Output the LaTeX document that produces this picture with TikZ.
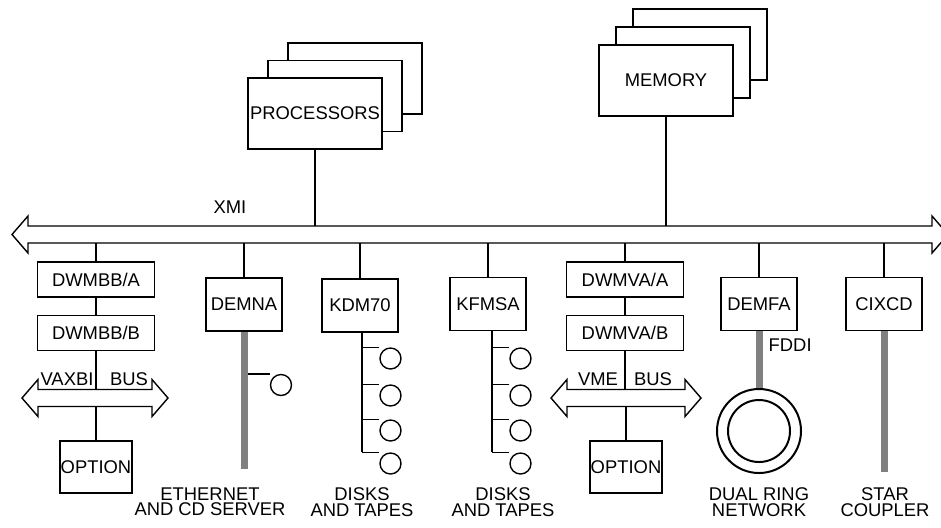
\documentclass[tikz,border=0pt]{standalone}
\usepackage{fontspec}
\setmainfont{Liberation Sans}
\begin{document}
\begin{tikzpicture}[x=0.5pt,y=-0.5pt,line width=0.7pt,
  every node/.style={font=\fontsize{9.2}{7.7}\selectfont},
  box/.style={draw,fill=white,inner sep=0pt,text depth=0pt},
  bigbox/.style={box,minimum width=67pt,minimum height=35.5pt},
  dwbox/.style={box,minimum width=58.5pt,minimum height=17.5pt},
  devbox/.style={box,minimum width=38pt,minimum height=26.5pt},
  optbox/.style={box,minimum width=36pt,minimum height=26pt},
  disk/.style={circle,draw,inner sep=0pt,minimum size=10.5pt},
  ring/.style={circle,draw,line width=1pt,inner sep=0pt},
  cable/.style={line width=3.5pt,black!50},
  lbl/.style={align=center,inner sep=0pt}]
\clip (0,0) rectangle (941,527);
\foreach \k in {2,1}
  \node[bigbox] (procs-\k) at ({315+20*\k},{113.5-17.5*\k}) {};
\node[bigbox] (procs) at (315,113.5) {PROCESSORS};
\foreach \k in {2,1}
  \node[bigbox] (mem-\k) at ({666+17*\k},{80.5-18*\k}) {};
\node[bigbox] (mem) at (666,80.5) {MEMORY};
\foreach \l/\r/\y/\n in {12/948/234.5/xmi, 22/168/398/vaxbi, 551/701/398/vme} {
  \draw (\l,\y) -- ({\l+16},{\y-18.5}) -- ({\l+16},{\y-8.5}) -- ({\r-16},{\y-8.5})
    -- ({\r-16},{\y-18.5}) -- (\r,\y) -- ({\r-16},{\y+18.5}) -- ({\r-16},{\y+8.5})
    -- ({\l+16},{\y+8.5}) -- ({\l+16},{\y+18.5}) -- cycle;
  \coordinate (\n-t) at (\l,{\y-8.5});
  \coordinate (\n-b) at (\l,{\y+8.5});
}
\node (xmi-lbl) at (230,207) {XMI};
\node[inner sep=0pt] (vaxbi-lbl) at (67,379) {VAXBI};
\node[inner sep=0pt] (vaxbi-lbl2) at (129,379) {BUS};
\node[inner sep=0pt] (vme-lbl) at (598,379) {VME};
\node[inner sep=0pt] (vme-lbl2) at (653,379) {BUS};
\node[dwbox] (dwmbbA) at (96,279.5) {DWMBB/A};
\node[dwbox] (dwmbbB) at (96,333) {DWMBB/B};
\node[optbox] (optA) at (96,467) {OPTION};
\node[devbox] (demna) at (244,304.5) {DEMNA};
\node[devbox] (kdm) at (360,305.5) {KDM70};
\node[devbox] (kfmsa) at (488,304) {KFMSA};
\node[dwbox] (dwmvaA) at (625,279.5) {DWMVA/A};
\node[dwbox] (dwmvaB) at (625,333) {DWMVA/B};
\node[optbox] (optB) at (626,467) {OPTION};
\node[devbox] (demfa) at (759,304) {DEMFA};
\node[devbox] (cixcd) at (884,304) {CIXCD};
\draw (procs) -- (procs |- xmi-t);
\draw (mem) -- (mem |- xmi-t);
\foreach \n in {dwmbbA,demna,kdm,kfmsa,dwmvaA,demfa,cixcd}
  \draw (\n) -- (\n |- xmi-b);
\draw (dwmbbA) -- (dwmbbB);
\draw (dwmbbB) -- (dwmbbB |- vaxbi-t);
\draw (optA) -- (optA |- vaxbi-b);
\draw (dwmvaA) -- (dwmvaB);
\draw (dwmvaB) -- (dwmvaB |- vme-t);
\draw (optB) -- (optB |- vme-b);
% disk chains
\coordinate (kdm-c) at ([xshift=1pt]kdm.south);
\coordinate (kfmsa-c) at ([xshift=2pt]kfmsa.south);
\foreach \i/\y in {1/348,2/385,3/420,4/453} {
  \node[disk] (kdm-d\i) at (390.5,{\y+10.5}) {};
  \draw (kdm-c |- kdm-d\i.north) -- (kdm-d\i.west |- kdm-d\i.north);
  \node[disk] (kfmsa-d\i) at (520.5,{\y+10.5}) {};
  \draw (kfmsa-c |- kfmsa-d\i.north) -- (kfmsa-d\i.west |- kfmsa-d\i.north);
}
\draw (kdm-c) -- (kdm-c |- kdm-d4.north);
\draw (kfmsa-c) -- (kfmsa-c |- kfmsa-d4.north);
% networks
\node[disk] (eth-d) at (281,385) {};
\draw (demna |- eth-d.north) -- (eth-d.west |- eth-d.north);
\coordinate (eth-end) at (244,469);
\draw[cable] (demna) -- (eth-end);
\node[ring,minimum size=42pt] (ring) at (759,431) {};
\node[ring,minimum size=31pt] (ring-in) at (759,431) {};
\draw[cable] (demfa) -- (ring);
\node[anchor=west,inner sep=0pt] (fddi) at (768,345) {FDDI};
\coordinate (star-end) at (884,472);
\draw[cable] (cixcd) -- (star-end);
\node[lbl] (eth-lbl) at (210,502) {ETHERNET\\AND CD SERVER};
\node[lbl] (kdm-lbl) at (362,502) {DISKS\\AND TAPES};
\node[lbl] (kfmsa-lbl) at (503,502) {DISKS\\AND TAPES};
\node[lbl] (ring-lbl) at (759,502) {DUAL RING\\NETWORK};
\node[lbl] (star-lbl) at (885,502) {STAR\\COUPLER};
\end{tikzpicture}
\end{document}
